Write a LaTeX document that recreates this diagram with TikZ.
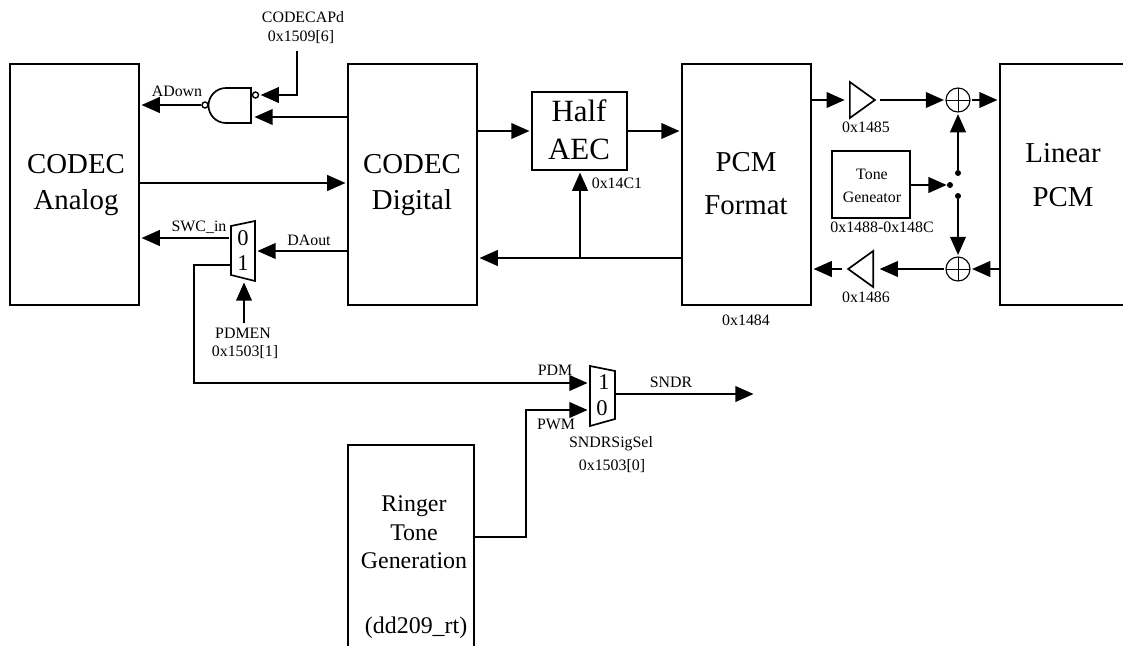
\documentclass[tikz,border=0pt]{standalone}
\usepackage{fontspec}
\setmainfont{Liberation Serif}
\usepackage{tikz}
\usetikzlibrary{arrows.meta}
\usetikzlibrary{positioning, shapes.geometric}

\tikzset{
    block/.style={draw, line width=1.5pt, inner sep=0pt, align=center},
    big/.style={font=\fontsize{20.5}{25.6}\selectfont, inner sep=0pt, align=center},
    lab/.style={font=\fontsize{11.3}{13}\selectfont, inner sep=0pt},
    digit/.style={font=\fontsize{16}{18}\selectfont, inner sep=0pt},
    wire/.style={line width=1.8pt},
    sig/.style={wire, -{Triangle[length=13pt,width=11pt]}, shorten >=1pt},
    shape1/.style={line width=1.2pt, line join=miter},
    amp/.style={draw, line width=1.2pt, isosceles triangle, isosceles triangle stretches, minimum width=0.9cm, minimum height=0.625cm, inner sep=0pt, anchor=lower side},
    adder/.style={draw, circle, line width=0.8pt, minimum size=0.6cm, inner sep=0pt,
        path picture={\draw[line width=0.6pt] (path picture bounding box.north) -- (path picture bounding box.south) (path picture bounding box.west) -- (path picture bounding box.east);}},
    bubble/.style={draw, circle, fill=white, line width=1pt, minimum size=0.15cm, inner sep=0pt},
    tap/.style={circle, fill=black, minimum size=0.15cm, inner sep=0pt}
}

\begin{document}
\begin{tikzpicture}[x=0.025cm, y=-0.025cm]
    \path[use as bounding box, clip] (0,0) rectangle (1123,645);

    \node[block, minimum width=3.225cm, minimum height=6.025cm] (analog) at (74.5,184.5) {};
    \node[block, minimum width=3.225cm, minimum height=6.025cm] (digital) at (412.5,184.5) {};
    \node[block, minimum width=3.225cm, minimum height=6.025cm] (pcm) at (746.5,184.5) {};
    \node[block, minimum width=3.225cm, minimum height=6.025cm] (linear) at (1064.5,184.5) {};
    \node[block, minimum width=2.375cm, minimum height=1.95cm] (aec) at (579.5,131) {};
    \node[block, minimum width=1.95cm, minimum height=1.675cm] (tone) at (871,184.5) {};
    \node[block, minimum width=3.15cm, minimum height=5.5cm] (ringer) at (411,555) {};

    \node[big] (analogtext) at (76,185) {CODEC\\Analog};
    \node[big] (digitaltext) at (412,185) {CODEC\\Digital};
    \node[big, font=\fontsize{20.5}{30.6}\selectfont] (pcmtext) at (746,184) {PCM\\Format};
    \node[big, font=\fontsize{20.5}{31}\selectfont] (lineartext) at (1063,175) {Linear\\PCM};
    \node[big, font=\fontsize{22}{27}\selectfont] (aectext) at (579,130) {Half\\AEC};
    \node[big, font=\fontsize{17}{20.3}\selectfont] (ringertext) at (414,567) {Ringer\\Tone\\Generation\\[1.5em]\hspace{3pt}(dd209\_rt)};
    \node[lab, align=center, font=\fontsize{11.3}{16.4}\selectfont] (tonetext) at (872,185.5) {Tone\\Geneator};

    \draw[shape1] (251,88) -- (226,88) arc (270:90:17.5) -- (251,123) -- cycle;
    \node[bubble] (gateout) at (205,105) {};
    \node[bubble] (gatein) at (255.5,95) {};
    \coordinate (gatelow) at (253,117);
    \coordinate (capd) at (297,51);

    \draw[sig] (gateout) -- (analog.east |- gateout);
    \draw[sig] (capd) |- (gatein);
    \draw[sig] (digital.west |- gatelow) -- (gatelow);
    \draw[sig] (analog.east |- 0,183) -- (digital.west |- 0,183);

    \node[lab] (capdtext) at (303,17) {CODECAPd};
    \node[lab] (capdaddr) at (301,37) {0x1509[6]};
    \node[lab] (adowntext) at (177,91) {ADown};

    \draw[shape1] (231,226) -- (255,221) -- (255,281) -- (231,275) -- cycle;
    \node[digit] (muxzero) at (243,238) {0};
    \node[digit] (muxone) at (243,263) {1};
    \coordinate (swcout) at (229,238);
    \coordinate (dain) at (256,251);
    \coordinate (muxlow) at (231,265);
    \coordinate (enin) at (244,281);
    \coordinate (enfoot) at (244,323);
    \coordinate (pdmin) at (589,383);
    \coordinate (pwmin) at (589,410);
    \coordinate (sndrout) at (615,394);
    \coordinate (sndrend) at (755,394);

    \draw[sig] (swcout) -- (analog.east |- swcout);
    \draw[sig] (digital.west |- dain) -- (dain);
    \draw[sig] (enfoot) -- (enin);
    \draw[sig] (muxlow) -- (194,265) |- (pdmin);

    \node[lab] (swctext) at (199,227) {SWC\_in};
    \node[lab] (daouttext) at (309,240) {DAout};
    \node[lab] (pdmen) at (243,333) {PDMEN};
    \node[lab] (pdmenaddr) at (245,352) {0x1503[1]};

    \draw[shape1] (590,366) -- (615,371) -- (615,419) -- (590,426) -- cycle;
    \node[digit] (selone) at (604,382) {1};
    \node[digit] (selzero) at (602,408) {0};
    \draw[sig] (sndrout) -- (sndrend);
    \draw[sig] (ringer.east |- 0,537) -| (526,410) -- (pwmin);

    \node[lab] (pdmtext) at (555,370) {PDM};
    \node[lab] (pwmtext) at (556,424) {PWM};
    \node[lab] (sndrtext) at (671,382) {SNDR};
    \node[lab] (sigsel) at (611,444) {SNDRSigSel};
    \node[lab] (sigseladdr) at (612,466) {0x1503[0]};

    \coordinate (branch) at (580,258);
    \draw[sig] (digital.east |- aec) -- (aec.west);
    \draw[sig] (aec.east) -- (pcm.west |- aec);
    \draw[sig] (pcm.west |- branch) -- (digital.east |- branch);
    \draw[sig] (branch) -- (aec.south -| branch);

    \node[lab] (aecaddr) at (617,183) {0x14C1};
    \node[lab] (pcmaddr) at (746,320) {0x1484};

    \node[amp] (ampup) at (849,100) {};
    \node[amp, shape border rotate=180] (ampdown) at (874,269) {};
    \node[adder] (addup) at (958,100) {};
    \node[adder] (adddown) at (958,269) {};
    \node[tap] (switch) at (950,185) {};
    \node[tap] (tapup) at (958,173) {};
    \node[tap] (tapdown) at (958,196) {};

    \draw[sig, shorten >=3pt] (pcm.east |- ampup.lower side) -- (ampup.lower side);
    \draw[sig, shorten <=2pt] (ampup.apex) -- (addup);
    \draw[sig, shorten <=1pt] (addup) -- (linear.west |- addup);
    \draw[sig] (linear.west |- adddown) -- (adddown);
    \draw[sig, shorten <=1pt, shorten >=4pt] (adddown) -- (ampdown.lower side);
    \draw[sig, shorten <=3pt] (ampdown.apex) -- (pcm.east |- ampdown.apex);
    \draw[sig, shorten >=0pt] (tone.east |- switch) -- (switch);
    \draw[sig] (tapup) -- (addup);
    \draw[sig] (tapdown) -- (adddown);

    \node[lab] (ampupaddr) at (866,127) {0x1485};
    \node[lab] (ampdownaddr) at (866,297) {0x1486};
    \node[lab] (toneaddr) at (882,227) {0x1488-0x148C};
\end{tikzpicture}
\end{document}
